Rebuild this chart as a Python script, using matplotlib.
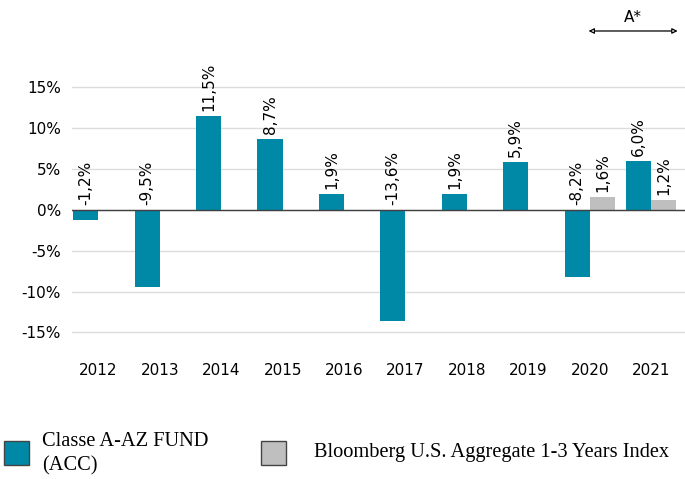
import numpy as np
import matplotlib
matplotlib.use("Agg")
import matplotlib.pyplot as plt
from matplotlib.patches import Rectangle

years = ["2012", "2013", "2014", "2015", "2016", "2017", "2018", "2019", "2020", "2021"]
fund = [-1.2, -9.5, 11.5, 8.7, 1.9, -13.6, 1.9, 5.9, -8.2, 6.0]
bench = [np.nan] * 8 + [1.6, 1.2]
fund_name = "Classe A-AZ FUND\n(ACC)"
bench_name = "Bloomberg U.S. Aggregate 1-3 Years Index"

teal = "#0089A7"
grey = "#BFBFBF"

W, H = 685, 479
fig = plt.figure(figsize=(W / 100, H / 100), dpi=100)
ax = fig.add_axes([0.105, 0.289, 0.895, 0.648])

x = np.arange(len(years))
w = 0.41
ax.bar(x - w / 2, fund, w, color=teal, zorder=3)
ax.bar(x + w / 2, bench, w, color=grey, zorder=3)


def fmt(v):
    return f"{v:.1f}".replace(".", ",") + "%"


for xi, v in zip(x, fund):
    ax.text(xi - w / 2, max(v, 0) + 0.6, fmt(v), rotation=90, ha="center",
            va="bottom", fontsize=11)
for xi, v in zip(x, bench):
    if not np.isnan(v):
        ax.text(xi + w / 2, v + 0.6, fmt(v), rotation=90, ha="center",
                va="bottom", fontsize=11)

ax.set_ylim(-16, 22)
ax.set_xlim(-0.43, 9.55)
ax.set_yticks([-15, -10, -5, 0, 5, 10, 15])
ax.set_yticklabels([f"{t}%" for t in [-15, -10, -5, 0, 5, 10, 15]], fontsize=11)
ax.set_xticks(x)
ax.set_xticklabels(years, fontsize=11)
ax.tick_params(length=0)
ax.tick_params(axis="x", pad=16)
ax.tick_params(axis="y", pad=8)
for s in ax.spines.values():
    s.set_visible(False)
ax.yaxis.grid(True, color="#DCDCDC", linewidth=1, zorder=0)
ax.axhline(0, color="#404040", linewidth=1, zorder=4)

# A* period marker
ax.annotate("", xy=(7.98, 21.9), xytext=(9.43, 21.9),
            arrowprops=dict(arrowstyle="<|-|>", color="black", lw=0.9,
                            fc="white", shrinkA=0, shrinkB=0,
                            mutation_scale=8),
            annotation_clip=False)
ax.text((7.98 + 9.43) / 2, 22.6, "A*", ha="center", va="bottom", fontsize=11)

# legend, laid out by hand (pixel positions from the top-left corner)
def px(xp, yp):
    return xp / W, 1 - yp / H

serif = {"family": "Liberation Serif", "size": 14.7}
for x0, color in [(4, teal), (261, grey)]:
    bx, by = px(x0, 465)
    fig.add_artist(Rectangle((bx, by), 25 / W, 24 / H, transform=fig.transFigure,
                             facecolor=color, edgecolor="#444444", linewidth=1))
tx, ty = px(42, 454)
fig.text(tx, ty, fund_name, ha="left", va="center", fontdict=serif, linespacing=1.35)
tx, ty = px(314, 453)
fig.text(tx, ty, bench_name, ha="left", va="center", fontdict=serif)

fig.savefig("out.png", dpi=100)
